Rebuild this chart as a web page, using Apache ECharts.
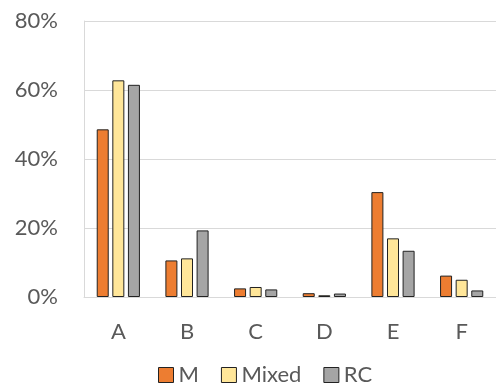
<!DOCTYPE html>
<html><head><meta charset="utf-8">
<script src="https://cdn.jsdelivr.net/npm/echarts@6/dist/echarts.min.js"></script>
<style>html,body{margin:0;padding:0;background:#fff}#c{width:496px;height:385px}</style>
</head><body><div id="c"></div>
<script>
const categories = ['A','B','C','D','E','F'];
const seriesNames = ['M','Mixed','RC'];
const mValues = [48.6, 10.6, 2.5, 1.1, 30.4, 6.2];
const mixedValues = [62.8, 11.2, 2.9, 0.5, 17.0, 5.0];
const rcValues = [61.5, 19.3, 2.2, 1.0, 13.4, 1.9];
const yTicks = [0, 20, 40, 60, 80];

const colors = ['#ED7D31', '#FFE699', '#A5A5A5'];
const font = 'Lato, "Open Sans", sans-serif';
const chart = echarts.init(document.getElementById('c'));
const mk = (name, data, i) => ({
  name, type: 'bar', data, barWidth: 12, barGap: '30%',
  itemStyle: { color: colors[i], borderColor: '#222', borderWidth: 1 }
});
chart.setOption({
  animation: false,
  grid: { left: 84, right: -8, top: 21, bottom: 88 },
  xAxis: {
    type: 'category', data: categories,
    axisLine: { lineStyle: { color: '#d9d9d9' } },
    axisTick: { show: false },
    axisLabel: { color: '#595959', fontSize: 22, fontFamily: font, margin: 24 }
  },
  yAxis: {
    type: 'value', min: yTicks[0], max: yTicks[yTicks.length-1], interval: 20,
    axisLine: { show: true, lineStyle: { color: '#d9d9d9' } },
    splitLine: { lineStyle: { color: '#d9d9d9' } },
    axisLabel: { color: '#595959', fontSize: 22, fontFamily: font, margin: 26, formatter: v => v + '%' }
  },
  legend: {
    left: 158, top: 364, padding: 0, itemWidth: 15, itemHeight: 15, itemGap: 22,
    icon: 'rect',
    data: seriesNames,
    textStyle: { color: '#595959', fontSize: 22, fontFamily: font },
    itemStyle: { borderColor: '#222', borderWidth: 1 }
  },
  series: [mk(seriesNames[0], mValues, 0), mk(seriesNames[1], mixedValues, 1), mk(seriesNames[2], rcValues, 2)]
});
</script></body></html>
